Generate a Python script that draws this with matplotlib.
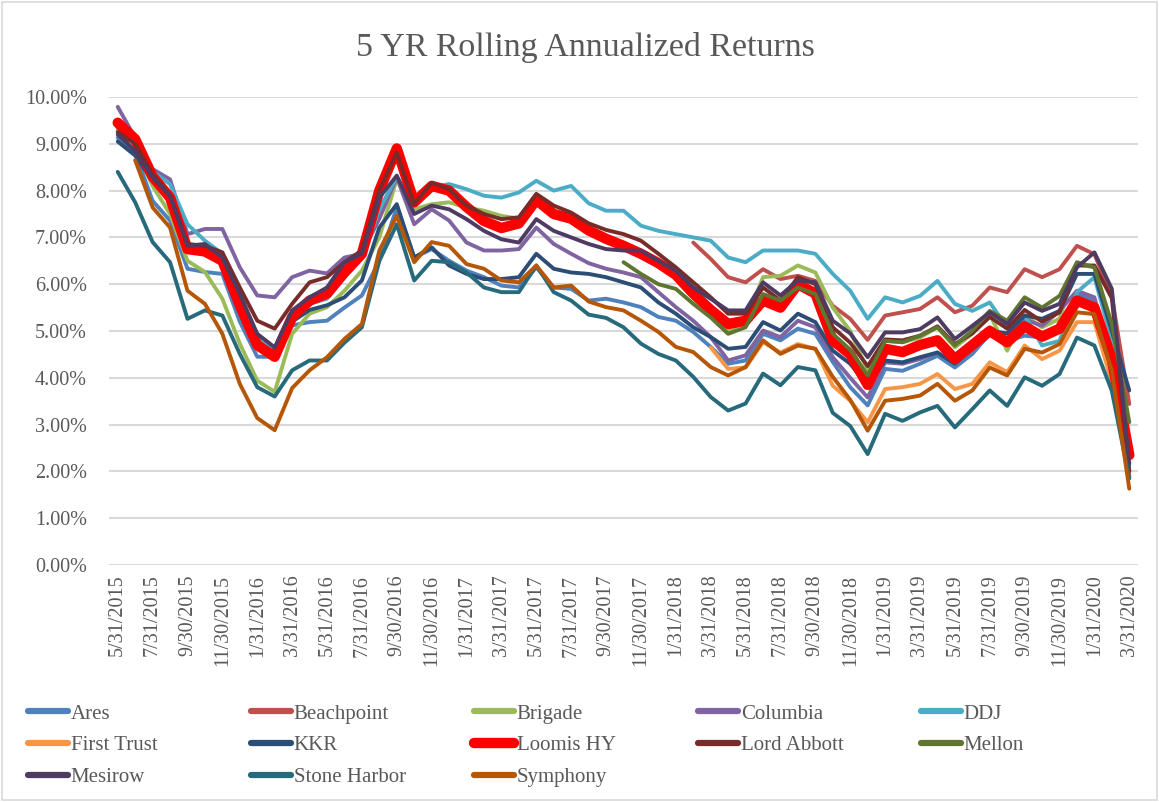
import numpy as np
import pandas as pd
import matplotlib
matplotlib.use("Agg")
import matplotlib.pyplot as plt
from matplotlib.lines import Line2D
from matplotlib.patches import Rectangle
from matplotlib.ticker import PercentFormatter

# month-end dates 5/31/2015 .. 3/31/2020
dates = pd.date_range("2015-05-31", periods=59, freq="ME")
date_labels = [f"{d.month}/{d.day}/{d.year}" for d in dates]

N = None
ares = [9.13, 8.80, 7.78, 7.36, 6.33, 6.26, 6.22, 5.20, 4.45, 4.45,
        5.12, 5.19, 5.22, 5.50, 5.76, 6.50, 7.64, 6.57, 6.75, 6.50,
        6.29, 6.15, 5.97, 5.93, 6.36, 5.93, 5.90, 5.65, 5.69, 5.61,
        5.51, 5.30, 5.22, 4.98, 4.66, 4.30, 4.37, 4.94, 4.80, 5.05,
        4.94, 4.34, 3.80, 3.41, 4.19, 4.15, 4.30, 4.47, 4.22, 4.51,
        4.94, 4.79, 4.90, 4.86, 5.00, 5.79, 5.65, 4.44, 1.90]
beachpoint = [N] * 33 + [6.89, 6.54, 6.15, 6.04, 6.32, 6.11, 6.18,
        6.07, 5.54, 5.26, 4.81, 5.33, 5.40, 5.47, 5.72, 5.40, 5.54,
        5.93, 5.83, 6.32, 6.15, 6.32, 6.82, 6.64, 5.75, 3.44]
brigade = [9.30, 8.90, 8.10, 7.50, 6.50, 6.26, 5.69, 4.73, 3.94, 3.70,
        4.94, 5.37, 5.51, 5.86, 6.29, 7.00, 8.25, 7.60, 7.71, 7.75,
        7.64, 7.57, 7.46, 7.40, 7.85, 7.55, 7.40, 7.15, 6.95, 6.80,
        6.60, 6.40, 6.15, 5.75, 5.40, 5.00, 5.20, 6.15, 6.18, 6.40,
        6.25, 5.50, 5.00, 4.15, 4.79, 4.76, 4.86, 5.08, 4.65, 4.94,
        5.36, 4.58, 5.33, 5.08, 5.26, 6.43, 6.36, 5.00, 2.50]
columbia = [9.79, 9.13, 8.46, 8.24, 7.07, 7.18, 7.18, 6.36, 5.76, 5.72,
        6.15, 6.29, 6.23, 6.57, 6.65, 7.40, 8.28, 7.28, 7.60, 7.36,
        6.89, 6.72, 6.72, 6.75, 7.21, 6.86, 6.65, 6.45, 6.33, 6.25,
        6.15, 5.83, 5.51, 5.22, 4.87, 4.37, 4.48, 5.01, 4.87, 5.22,
        5.08, 4.44, 4.00, 3.58, 4.33, 4.30, 4.40, 4.54, 4.30, 4.65,
        5.08, 4.80, 5.25, 5.11, 5.43, 5.86, 5.72, 4.37, 1.90]
ddj = [9.35, 9.00, 8.40, 8.14, 7.28, 6.93, 6.65, 5.70, 4.85, 4.60,
        5.37, 5.58, 5.69, 6.15, 6.55, 7.60, 8.30, 7.68, 8.07, 8.14,
        8.03, 7.89, 7.85, 7.96, 8.21, 8.00, 8.10, 7.73, 7.57, 7.57,
        7.25, 7.14, 7.07, 7.00, 6.93, 6.57, 6.47, 6.72, 6.72, 6.72,
        6.65, 6.22, 5.86, 5.26, 5.72, 5.61, 5.75, 6.07, 5.58, 5.43,
        5.61, 5.08, 5.33, 4.69, 4.79, 5.83, 6.15, 4.80, 2.00]
first_trust = [N] * 34 + [4.65, 4.19, 4.22, 4.76, 4.54, 4.72,
        4.62, 3.83, 3.51, 3.05, 3.76, 3.80, 3.87, 4.08, 3.76, 3.87,
        4.33, 4.12, 4.69, 4.40, 4.58, 5.19, 5.19, 3.90, 1.85]
kkr = [9.05, 8.75, 8.20, 7.80, 6.80, 6.75, 6.45, 5.50, 4.75, 4.50,
        5.20, 5.45, 5.55, 5.72, 6.08, 7.21, 7.71, 6.57, 6.79, 6.40,
        6.22, 6.11, 6.11, 6.15, 6.65, 6.33, 6.25, 6.22, 6.15, 6.04,
        5.93, 5.61, 5.37, 5.08, 4.87, 4.62, 4.66, 5.19, 5.01, 5.37,
        5.19, 4.58, 4.30, 3.83, 4.37, 4.33, 4.44, 4.54, 4.30, 4.62,
        5.00, 4.95, 5.33, 5.26, 5.43, 6.22, 6.22, 5.00, 3.73]
loomis = [9.45, 9.10, 8.30, 7.85, 6.75, 6.70, 6.50, 5.55, 4.70, 4.45,
        5.30, 5.65, 5.80, 6.25, 6.65, 8.00, 8.90, 7.75, 8.10, 8.00,
        7.65, 7.35, 7.20, 7.30, 7.80, 7.50, 7.40, 7.15, 6.97, 6.82,
        6.65, 6.45, 6.20, 5.80, 5.45, 5.15, 5.22, 5.65, 5.50, 6.00,
        5.80, 4.80, 4.50, 3.85, 4.62, 4.55, 4.70, 4.80, 4.40, 4.70,
        5.00, 4.76, 5.10, 4.88, 5.05, 5.65, 5.50, 4.40, 2.35]
lord_abbott = [9.25, 9.00, 8.35, 7.90, 6.86, 6.82, 6.68, 5.93, 5.22, 5.05,
        5.58, 6.04, 6.15, 6.47, 6.72, 8.00, 8.81, 7.71, 8.17, 8.03,
        7.68, 7.50, 7.39, 7.43, 7.93, 7.68, 7.53, 7.30, 7.16, 7.07,
        6.93, 6.65, 6.36, 6.04, 5.72, 5.37, 5.37, 5.93, 5.65, 6.15,
        6.00, 5.08, 4.75, 4.25, 4.82, 4.80, 4.90, 5.10, 4.72, 4.95,
        5.30, 5.05, 5.45, 5.20, 5.40, 6.40, 6.40, 5.70, 2.00]
mellon = [N] * 29 + [6.47, 6.22, 6.00, 5.90, 5.58, 5.29, 4.94, 5.08, 5.79, 5.65, 5.93,
        5.79, 4.94, 4.60, 4.05, 4.79, 4.76, 4.90, 5.08, 4.69, 5.01,
        5.43, 5.22, 5.72, 5.50, 5.75, 6.47, 6.36, 5.15, 3.05]
mesirow = [9.20, 8.85, 8.28, 7.89, 6.82, 6.86, 6.57, 5.79, 4.94, 4.65,
        5.44, 5.72, 5.93, 6.47, 6.65, 7.85, 8.32, 7.50, 7.68, 7.60,
        7.39, 7.14, 6.96, 6.89, 7.39, 7.14, 7.00, 6.86, 6.75, 6.72,
        6.72, 6.50, 6.29, 5.93, 5.69, 5.44, 5.44, 6.04, 5.76, 6.08,
        6.04, 5.22, 4.95, 4.44, 4.97, 4.97, 5.04, 5.29, 4.83, 5.11,
        5.40, 5.15, 5.61, 5.43, 5.58, 6.36, 6.68, 5.90, 2.16]
stone_harbor = [8.40, 7.75, 6.90, 6.47, 5.26, 5.44, 5.33, 4.51, 3.80, 3.60,
        4.16, 4.37, 4.37, 4.75, 5.08, 6.50, 7.28, 6.08, 6.50, 6.47,
        6.25, 5.93, 5.83, 5.83, 6.40, 5.83, 5.65, 5.35, 5.28, 5.08,
        4.73, 4.51, 4.37, 4.02, 3.59, 3.30, 3.45, 4.09, 3.84, 4.23,
        4.16, 3.25, 2.97, 2.37, 3.23, 3.08, 3.26, 3.40, 2.94, 3.33,
        3.73, 3.40, 4.01, 3.83, 4.08, 4.86, 4.69, 3.72, 1.85]
symphony = [N, 8.65, 7.64, 7.21, 5.86, 5.58, 4.94, 3.87, 3.14, 2.88,
        3.78, 4.16, 4.44, 4.83, 5.15, 6.72, 7.46, 6.47, 6.90, 6.82,
        6.43, 6.33, 6.08, 6.04, 6.40, 5.93, 5.97, 5.63, 5.51, 5.44,
        5.22, 4.98, 4.66, 4.55, 4.23, 4.05, 4.23, 4.80, 4.51, 4.69,
        4.62, 4.02, 3.53, 2.87, 3.51, 3.55, 3.62, 3.87, 3.51, 3.73,
        4.22, 4.05, 4.62, 4.54, 4.72, 5.40, 5.36, 4.15, 1.63]

names = ["Ares", "Beachpoint", "Brigade", "Columbia", "DDJ", "First Trust", "KKR",
         "Loomis HY", "Lord Abbott", "Mellon", "Mesirow", "Stone Harbor", "Symphony"]
series = [ares, beachpoint, brigade, columbia, ddj, first_trust, kkr,
          loomis, lord_abbott, mellon, mesirow, stone_harbor, symphony]
colors = ["#4F81BD", "#C0504D", "#9BBB59", "#8064A2", "#4BACC6", "#F79646", "#2C4D75",
          "#FF0000", "#772C2A", "#5F7530", "#4D3B62", "#276A7C", "#B65708"]

plt.rcParams["font.family"] = ["Liberation Serif", "DejaVu Serif"]
grey = "#595959"

fig = plt.figure(figsize=(11.59, 8.02), dpi=100)
ax = fig.add_axes([109 / 1159, 1 - 565 / 802, (1138 - 109) / 1159, (565 - 97) / 802])

x = np.arange(len(dates))
for k, (name, vals, c) in enumerate(zip(names, series, colors)):
    y = np.array([np.nan if v is None else v / 100 for v in vals], dtype=float)
    lw = 7.5 if name == "Loomis HY" else 2.8
    ax.plot(x, y, color=c, lw=lw, zorder=3 + k,
            solid_joinstyle="round", solid_capstyle="round", label=name)

ax.set_xlim(-0.5, len(dates) - 0.5)
ax.set_ylim(0, 0.10)
ax.set_yticks(np.arange(0, 0.1001, 0.01))
ax.yaxis.set_major_formatter(PercentFormatter(1.0, decimals=2))
ax.set_xticks(x[::2])
ax.set_xticklabels(date_labels[::2], rotation=90)
ax.tick_params(axis="both", length=0, labelsize=14.5, labelcolor=grey)
ax.tick_params(axis="y", pad=16)
ax.tick_params(axis="x", pad=7)
ax.grid(axis="y", color="#D9D9D9", lw=1.5)
ax.set_axisbelow(True)
for s in ax.spines.values():
    s.set_visible(False)

fig.text(0.505, 0.941, "5 YR Rolling Annualized Returns", ha="center", va="center",
         fontsize=24.5, color=grey)

# legend laid out row-wise in 5 equal columns
col_x = [28, 251, 474, 698, 921]
for c in range(5):
    idx = [i for i in range(len(names)) if i % 5 == c]
    hs = [Line2D([], [], color=colors[i], lw=7.5 if names[i] == "Loomis HY" else 4.5,
                 solid_capstyle="round") for i in idx]
    fig.legend(hs, [names[i] for i in idx], loc="upper left",
               bbox_to_anchor=(col_x[c] / 1159, 1 - 704 / 802), frameon=False,
               fontsize=15, labelcolor=grey, handlelength=1.9, handletextpad=0.15,
               labelspacing=0.58, borderpad=0, borderaxespad=0)

fig.patches.append(Rectangle((0.002, 0.002), 0.996, 0.996, transform=fig.transFigure,
                             fill=False, edgecolor="#D9D9D9", lw=1.2))

fig.savefig("out.png", dpi=100)
